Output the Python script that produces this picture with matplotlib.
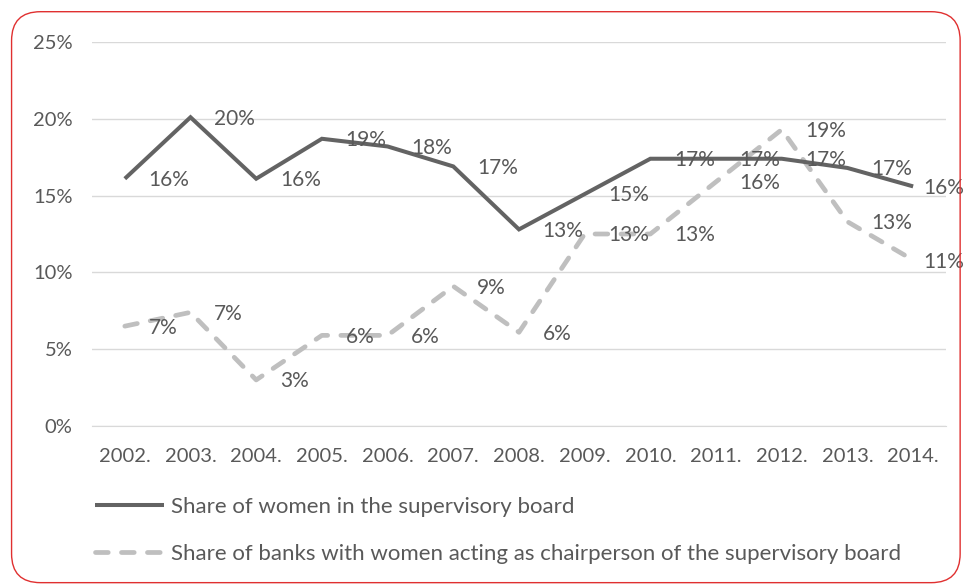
import matplotlib
matplotlib.use("Agg")
import matplotlib.pyplot as plt
from matplotlib.patches import FancyBboxPatch
from matplotlib.ticker import FuncFormatter

years = ["2002.", "2003.", "2004.", "2005.", "2006.", "2007.", "2008.",
         "2009.", "2010.", "2011.", "2012.", "2013.", "2014."]
women_share = [16.1, 20.1, 16.1, 18.7, 18.2, 16.9, 12.8, 15.1, 17.4, 17.4, 17.4, 16.8, 15.6]
chair_share = [6.5, 7.4, 3.0, 5.9, 5.9, 9.1, 6.1, 12.5, 12.5, 15.9, 19.3, 13.3, 10.8]
women_labels = ["16%", "20%", "16%", "19%", "18%", "17%", "13%", "15%", "17%", "17%", "17%", "17%", "16%"]
chair_labels = ["7%", "7%", "3%", "6%", "6%", "9%", "6%", "13%", "13%", "16%", "19%", "13%", "11%"]
yticks = [0, 5, 10, 15, 20, 25]
series_names = ["Share of women in the supervisory board",
                "Share of banks with women acting as chairperson of the supervisory board"]

plt.rcParams['font.family'] = ['Lato', 'DejaVu Sans']
text_color = "#595959"

fig = plt.figure(figsize=(9.64, 5.85), dpi=100)
ax = fig.add_axes([0.0954, 0.2718, 0.9813 - 0.0954, 0.9282 - 0.2718])

x = list(range(len(years)))
l1, = ax.plot(x, women_share, color="#636363", lw=2.9, solid_capstyle='butt',
              solid_joinstyle='miter', label=series_names[0], zorder=3)
l2, = ax.plot(x, chair_share, color="#BFBFBF", lw=3.4, linestyle=(0, (2.7, 2.8)),
              dash_capstyle='round', label=series_names[1], zorder=2)

last = len(years) - 1
for series, labels in ((women_share, women_labels), (chair_share, chair_labels)):
    for xi, v, lab in zip(x, series, labels):
        dx = 17 if xi != last else 7
        ax.annotate(lab, (xi, v), xytext=(dx, -1), textcoords='offset points',
                    ha='left', va='center', fontsize=15, color=text_color, zorder=4,
                    annotation_clip=False)

ax.set_xlim(-0.5, len(years) - 0.5)
ax.set_ylim(0, 25)
ax.set_yticks(yticks)
ax.yaxis.set_major_formatter(FuncFormatter(lambda v, p: f"{int(v)}%"))
ax.set_xticks(x)
ax.set_xticklabels(years)
ax.grid(axis='y', color="#D9D9D9", lw=1)
ax.set_axisbelow(True)
for s in ['top', 'right', 'left']:
    ax.spines[s].set_visible(False)
ax.spines['bottom'].set_color("#D9D9D9")
ax.tick_params(axis='both', length=0, labelsize=14.5, labelcolor=text_color)
ax.tick_params(axis='y', pad=14)
ax.tick_params(axis='x', pad=16)

leg = fig.legend(handles=[l1, l2], loc='upper left', bbox_to_anchor=(0.0985, 0.150),
                 frameon=False, fontsize=16, labelcolor=text_color,
                 handlelength=3.1, handletextpad=0.3, labelspacing=1.2,
                 borderaxespad=0, borderpad=0)

border = FancyBboxPatch((0.012, 0.004), 0.984, 0.976,
                        boxstyle="round,pad=0,rounding_size=0.03",
                        transform=fig.transFigure, fill=False,
                        edgecolor="#E03030", lw=1.0, mutation_aspect=964/585)
fig.patches.append(border)

fig.savefig("out.png", dpi=100)
